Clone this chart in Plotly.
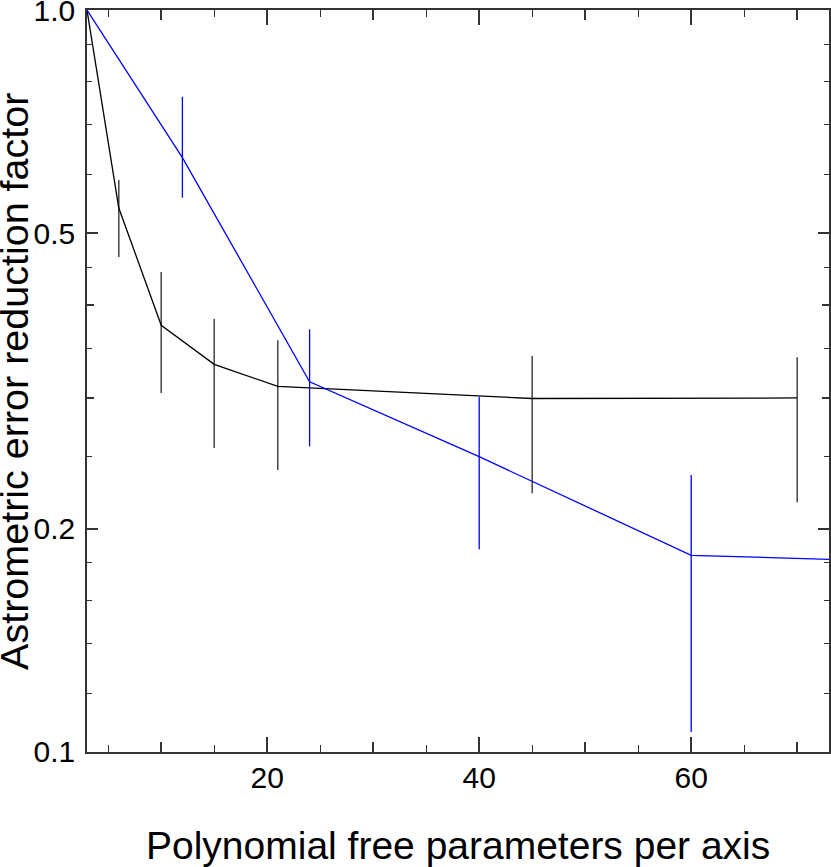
import plotly.graph_objects as go

# --- data ---
black_x = [3, 6, 10, 15, 21, 45, 70]
black_y = [1.0, 0.541, 0.376, 0.333, 0.311, 0.2995, 0.300]
black_hi = [1.0, 0.590, 0.4435, 0.3834, 0.359, 0.3418, 0.3404]
black_lo = [1.0, 0.4647, 0.3046, 0.2569, 0.2399, 0.2232, 0.217]

blue_x = [3, 12, 24, 40, 60, 80]
blue_y = [1.0, 0.6326, 0.3155, 0.250, 0.1841, 0.1806]
blue_hi = [1.0, 0.764, 0.3712, 0.3011, 0.2362, 0.1806]
blue_lo = [1.0, 0.5585, 0.2582, 0.1876, 0.1064, 0.1806]

x_major = [20, 40, 60]
x_mid = [10, 30, 50, 70]
x_minor = [5, 15, 25, 35, 45, 55, 65]
y_major = [0.1, 0.2, 0.5, 1.0]
y_major_text = ["0.1", "0.2", "0.5", "1.0"]
y_mid = [0.3, 0.4]
y_minor = [0.12, 0.14, 0.16, 0.18, 0.25, 0.35, 0.45, 0.6, 0.7, 0.8, 0.9]

FONT = "Liberation Sans, Arial, sans-serif"
AX = "#333333"


def errs(y, hi, lo):
    return [h - v for h, v in zip(hi, y)], [v - l for v, l in zip(y, lo)]


fig = go.Figure()

bp, bm = errs(black_y, black_hi, black_lo)
fig.add_trace(go.Scatter(
    x=black_x, y=black_y, mode="lines", line=dict(color="black", width=1.3),
    error_y=dict(type="data", symmetric=False, array=bp, arrayminus=bm,
                 color="#444444", thickness=1.5, width=0),
    showlegend=False))

up, um = errs(blue_y, blue_hi, blue_lo)
fig.add_trace(go.Scatter(
    x=blue_x, y=blue_y, mode="lines", line=dict(color="#0000ff", width=1.3),
    error_y=dict(type="data", symmetric=False, array=up, arrayminus=um,
                 color="#0000ff", thickness=1.3, width=0),
    showlegend=False))

# empty trace so the overlay axes (medium-length ticks) get drawn
fig.add_trace(go.Scatter(x=[None], y=[None], xaxis="x2", yaxis="y2",
                         showlegend=False, hoverinfo="skip"))

xr = [3, 73]
yr = [-1.0001, 0.0001]

fig.update_layout(
    width=831, height=867,
    margin=dict(l=87, r=2, t=10, b=115),
    paper_bgcolor="white", plot_bgcolor="white",
    font=dict(family=FONT, color="black"),
    xaxis=dict(
        range=xr, showgrid=False, zeroline=False, automargin=False,
        showline=True, linecolor=AX, linewidth=1.5, mirror="allticks",
        ticks="inside", tickmode="array", tickvals=x_major, ticklen=15,
        tickwidth=1.5, tickcolor=AX, ticklabeloverflow="allow",
        tickfont=dict(size=30, family=FONT), ticklabelstandoff=-2,
        minor=dict(ticks="inside", tickmode="array", tickvals=x_minor,
                   ticklen=7, tickwidth=1.3, tickcolor=AX),
    ),
    yaxis=dict(
        type="log", range=yr, showgrid=False, zeroline=False, automargin=False,
        showline=True, linecolor=AX, linewidth=1.5, mirror="allticks",
        ticks="inside", tickmode="array", tickvals=y_major,
        ticktext=y_major_text, ticklen=11, tickwidth=1.5, tickcolor=AX,
        ticklabeloverflow="allow",
        tickfont=dict(size=30, family=FONT), ticklabelstandoff=4,
        minor=dict(ticks="inside", tickmode="array", tickvals=y_minor,
                   ticklen=5, tickwidth=1.3, tickcolor=AX),
    ),
    xaxis2=dict(
        overlaying="x", anchor="y2", range=xr, showgrid=False,
        zeroline=False, showline=False, mirror="allticks", automargin=False,
        ticks="inside", tickmode="array", tickvals=x_mid, ticklen=10,
        tickwidth=1.5, tickcolor=AX, showticklabels=False,
    ),
    yaxis2=dict(
        overlaying="y", anchor="x2", type="log", range=yr, showgrid=False,
        zeroline=False, showline=False, mirror="allticks", automargin=False,
        ticks="inside", tickmode="array", tickvals=y_mid, ticklen=7,
        tickwidth=1.5, tickcolor=AX, showticklabels=False,
    ),
    annotations=[
        dict(text="Polynomial free parameters per axis", xref="paper",
             yref="paper", x=0.5, y=-0.126, xanchor="center",
             yanchor="middle", showarrow=False,
             font=dict(size=39, family=FONT, color="black")),
        dict(text="Astrometric error reduction factor", xref="paper",
             yref="paper", x=-0.0985, y=0.5, xanchor="center",
             yanchor="middle", textangle=-90, showarrow=False,
             font=dict(size=39.5, family=FONT, color="black")),
    ],
)

# page body has a default 8px margin; drop it so the figure fills the window
fig.write_html("out.html", config={"displayModeBar": False},
               post_script="document.body.style.margin='0';")
